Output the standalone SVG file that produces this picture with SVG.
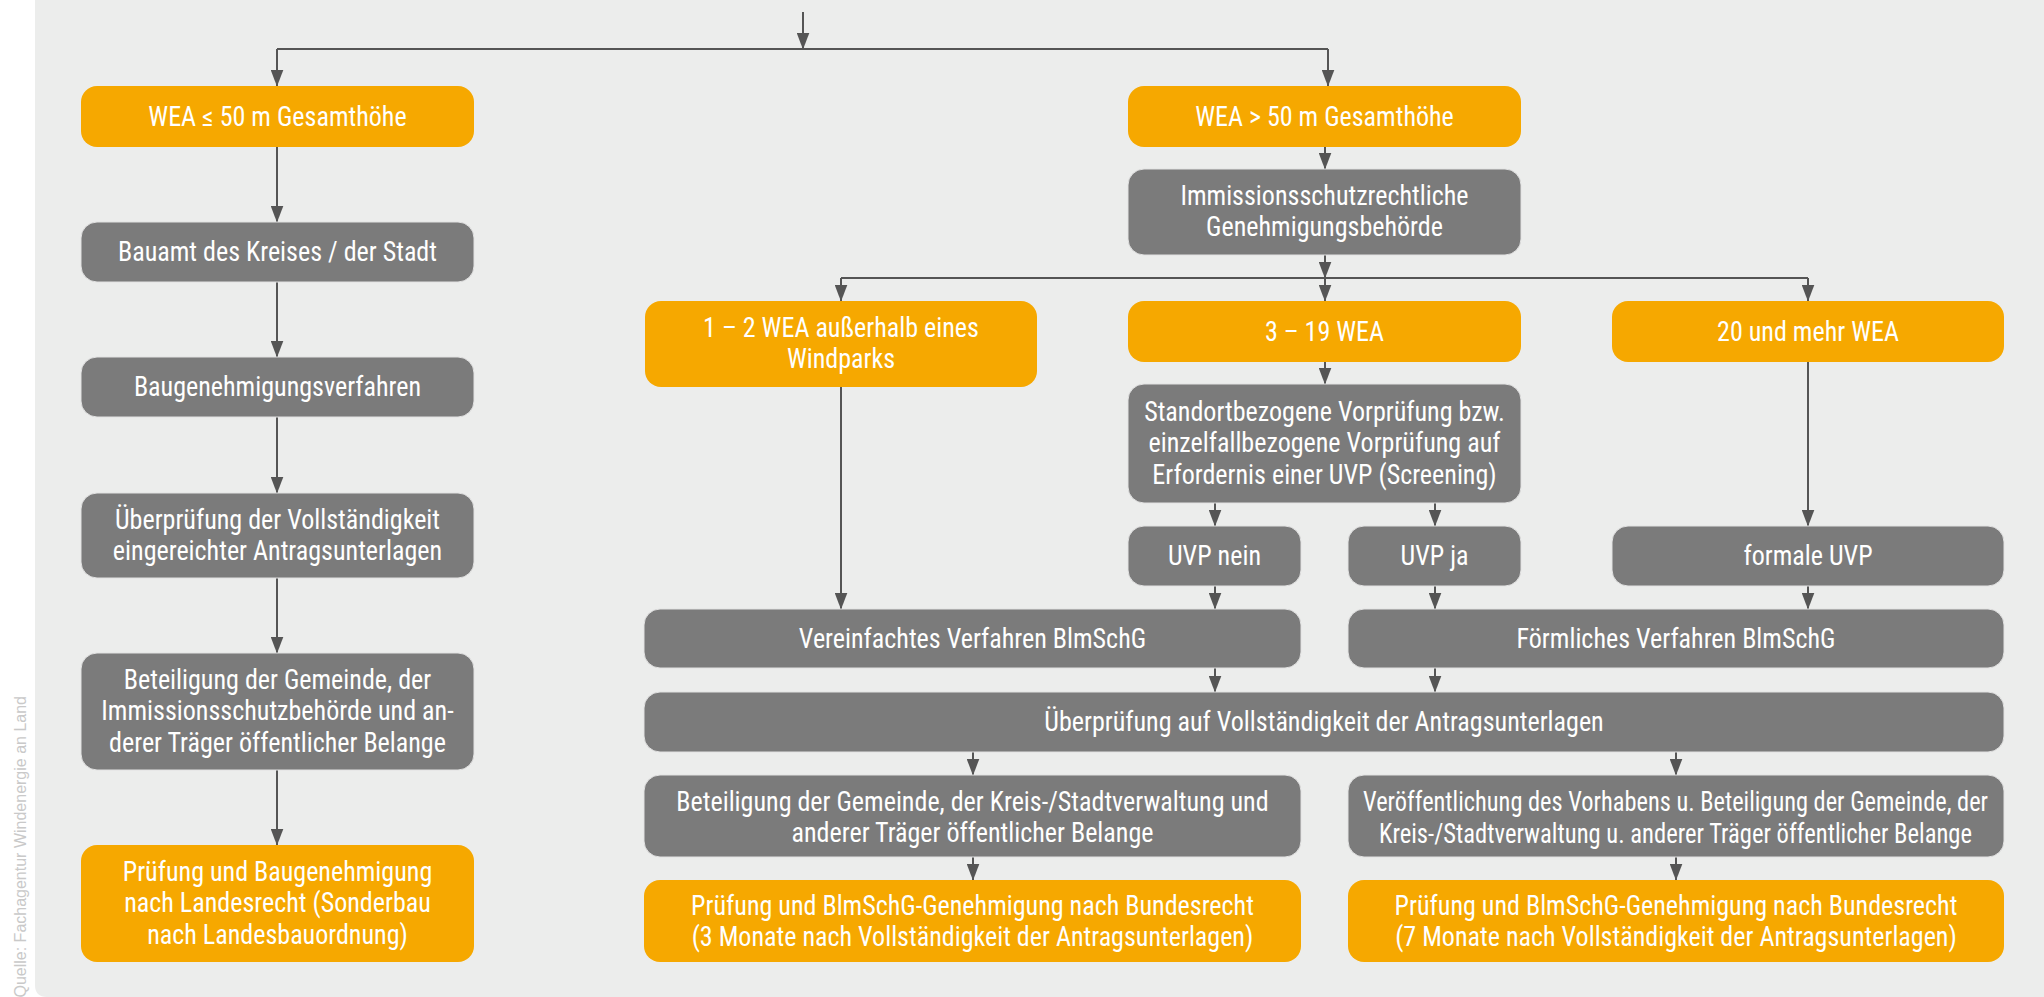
<svg xmlns="http://www.w3.org/2000/svg" width="2044" height="997" viewBox="0 0 2044 997">
<style>
.o{fill:#F6A800}
.g{fill:#7B7B7B}
.b{stroke:#E2E2E2;stroke-width:1}
text.t{font-family:"Roboto Condensed","Liberation Sans Narrow","Roboto",sans-serif;font-size:27px;fill:#FFFFFF;text-anchor:middle;transform-box:fill-box;transform-origin:center;transform:scaleX(0.965)}
text.t.f{transform:none}
.c{fill:none;stroke:#555555;stroke-width:2;marker-end:url(#ah)}
.l{fill:none;stroke:#555555;stroke-width:2}
</style>
<defs>
<marker id="ah" markerUnits="userSpaceOnUse" markerWidth="17" markerHeight="13" viewBox="0 0 17 13" refX="16.5" refY="6.5" orient="auto">
<path d="M0,0 L17,6.5 L0,13 Z" fill="#555555"/>
</marker>
</defs>
<rect x="0" y="0" width="2044" height="997" fill="#FFFFFF"/>
<path d="M35,0 H2044 V997 H47 Q35,997 35,985 Z" fill="#ECEDEC"/>
<text transform="translate(26,696) rotate(-90)" font-family="'Liberation Sans',Arial,sans-serif" font-size="16" fill="#C9C9C9" text-anchor="end">Quelle: Fachagentur Windenergie an Land</text>

<g id="connectors">
<path class="c" d="M803,12 V49"/>
<path class="l" d="M277,49 H1328"/>
<path class="c" d="M277,49 V86"/>
<path class="c" d="M1328,49 V86"/>
<path class="c" d="M277,147 V222"/>
<path class="c" d="M277,282 V357"/>
<path class="c" d="M277,417 V493"/>
<path class="c" d="M277,578 V653"/>
<path class="c" d="M277,770 V845"/>
<path class="c" d="M1325,147 V169"/>
<path class="c" d="M1325,255 V278"/>
<path class="l" d="M841,278 H1808"/>
<path class="c" d="M841,278 V301"/>
<path class="c" d="M1325,278 V301"/>
<path class="c" d="M1808,278 V301"/>
<path class="c" d="M1325,362 V384"/>
<path class="c" d="M1215,503 V526"/>
<path class="c" d="M1435,503 V526"/>
<path class="c" d="M1808,362 V526"/>
<path class="c" d="M841,387 V609"/>
<path class="c" d="M1215,586 V609"/>
<path class="c" d="M1435,586 V609"/>
<path class="c" d="M1808,586 V609"/>
<path class="c" d="M1215,668 V692"/>
<path class="c" d="M1435,668 V692"/>
<path class="c" d="M973,752 V775"/>
<path class="c" d="M1676,752 V775"/>
<path class="c" d="M973,857 V880"/>
<path class="c" d="M1676,857 V880"/>
</g>

<g id="n-wea-le50"><rect class="o" x="81" y="86" width="393" height="61" rx="16"/><text class="t" x="277.5" y="126">WEA ≤ 50 m Gesamthöhe</text></g>
<g id="n-bauamt"><rect class="g b" x="81" y="222" width="393" height="60" rx="16"/><text class="t" x="277.5" y="261">Bauamt des Kreises / der Stadt</text></g>
<g id="n-baugenehmigungsverfahren"><rect class="g b" x="81" y="357" width="393" height="60" rx="16"/><text class="t" x="277.5" y="396">Baugenehmigungsverfahren</text></g>
<g id="n-ueberpruefung-left"><rect class="g b" x="81" y="493" width="393" height="85" rx="16"/><text class="t" x="277.5" y="529">Überprüfung der Vollständigkeit</text><text class="t" x="277.5" y="560.5">eingereichter Antragsunterlagen</text></g>
<g id="n-beteiligung-left"><rect class="g b" x="81" y="653" width="393" height="117" rx="16"/><text class="t" x="277.5" y="689">Beteiligung der Gemeinde, der</text><text class="t" x="277.5" y="720.5">Immissionsschutzbehörde und an-</text><text class="t" x="277.5" y="752">derer Träger öffentlicher Belange</text></g>
<g id="n-pruefung-landesrecht"><rect class="o" x="81" y="845" width="393" height="117" rx="16"/><text class="t" x="277.5" y="881">Prüfung und Baugenehmigung</text><text class="t" x="277.5" y="912.5">nach Landesrecht (Sonderbau</text><text class="t" x="277.5" y="944">nach Landesbauordnung)</text></g>

<g id="n-wea-gt50"><rect class="o" x="1128" y="86" width="393" height="61" rx="16"/><text class="t" x="1324.5" y="126">WEA &gt; 50 m Gesamthöhe</text></g>
<g id="n-immissionsbehoerde"><rect class="g b" x="1128" y="169" width="393" height="86" rx="16"/><text class="t" x="1324.5" y="205">Immissionsschutzrechtliche</text><text class="t" x="1324.5" y="236.5">Genehmigungsbehörde</text></g>
<g id="n-1-2-wea"><rect class="o" x="645" y="301" width="392" height="86" rx="16"/><text class="t" x="841" y="337">1 – 2 WEA außerhalb eines</text><text class="t" x="841" y="368.5">Windparks</text></g>
<g id="n-3-19-wea"><rect class="o" x="1128" y="301" width="393" height="61" rx="16"/><text class="t" x="1324.5" y="341">3 – 19 WEA</text></g>
<g id="n-20-wea"><rect class="o" x="1612" y="301" width="392" height="61" rx="16"/><text class="t" x="1808" y="341">20 und mehr WEA</text></g>
<g id="n-vorpruefung"><rect class="g b" x="1128" y="384" width="393" height="119" rx="16"/><text class="t" x="1324.5" y="421">Standortbezogene Vorprüfung bzw.</text><text class="t" x="1324.5" y="452.5">einzelfallbezogene Vorprüfung auf</text><text class="t" x="1324.5" y="484">Erfordernis einer UVP (Screening)</text></g>
<g id="n-uvp-nein"><rect class="g b" x="1128" y="526" width="173" height="60" rx="16"/><text class="t" x="1214.5" y="565">UVP nein</text></g>
<g id="n-uvp-ja"><rect class="g b" x="1348" y="526" width="173" height="60" rx="16"/><text class="t" x="1434.5" y="565">UVP ja</text></g>
<g id="n-formale-uvp"><rect class="g b" x="1612" y="526" width="392" height="60" rx="16"/><text class="t" x="1808" y="565">formale UVP</text></g>
<g id="n-vereinfachtes"><rect class="g b" x="644" y="609" width="657" height="59" rx="16"/><text class="t" x="972.5" y="648">Vereinfachtes Verfahren BlmSchG</text></g>
<g id="n-foermliches"><rect class="g b" x="1348" y="609" width="656" height="59" rx="16"/><text class="t" x="1676" y="648">Förmliches Verfahren BlmSchG</text></g>
<g id="n-ueberpruefung-right"><rect class="g b" x="644" y="692" width="1360" height="60" rx="16"/><text class="t" x="1324" y="731">Überprüfung auf Vollständigkeit der Antragsunterlagen</text></g>
<g id="n-beteiligung-vereinfacht"><rect class="g b" x="644" y="775" width="657" height="82" rx="16"/><text class="t" x="972.5" y="811">Beteiligung der Gemeinde, der Kreis-/Stadtverwaltung und</text><text class="t" x="972.5" y="842.5">anderer Träger öffentlicher Belange</text></g>
<g id="n-veroeffentlichung"><rect class="g b" x="1348" y="775" width="656" height="82" rx="16"/><text class="t f" x="1675.5" y="811" textLength="625" lengthAdjust="spacingAndGlyphs">Veröffentlichung des Vorhabens u. Beteiligung der Gemeinde, der</text><text class="t f" x="1675.5" y="842.5" textLength="593" lengthAdjust="spacingAndGlyphs">Kreis-/Stadtverwaltung u. anderer Träger öffentlicher Belange</text></g>
<g id="n-pruefung-3"><rect class="o" x="644" y="880" width="657" height="82" rx="16"/><text class="t" x="972.5" y="915">Prüfung und BlmSchG-Genehmigung nach Bundesrecht</text><text class="t" x="972.5" y="946.5">(3 Monate nach Vollständigkeit der Antragsunterlagen)</text></g>
<g id="n-pruefung-7"><rect class="o" x="1348" y="880" width="656" height="82" rx="16"/><text class="t" x="1676" y="915">Prüfung und BlmSchG-Genehmigung nach Bundesrecht</text><text class="t" x="1676" y="946.5">(7 Monate nach Vollständigkeit der Antragsunterlagen)</text></g>
</svg>
